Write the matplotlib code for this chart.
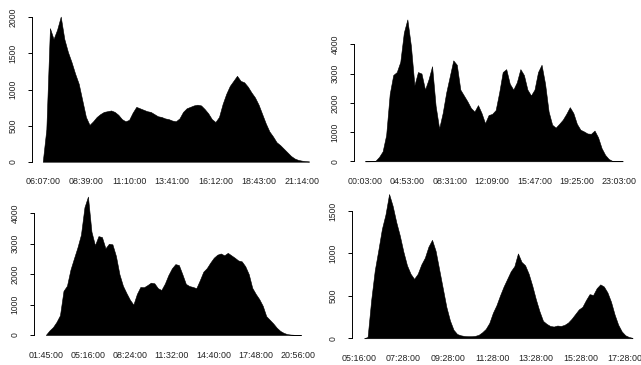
import numpy as np
import matplotlib
matplotlib.use("Agg")
import matplotlib.pyplot as plt

plt.rcParams['font.family'] = ['Liberation Sans', 'DejaVu Sans']

# time labels under each panel (evenly spaced bin positions 0..6)
labels_tl = ['06:07:00', '08:39:00', '11:10:00', '13:41:00', '16:12:00', '18:43:00', '21:14:00']
labels_tr = ['00:03:00', '04:53:00', '08:31:00', '12:09:00', '15:47:00', '19:25:00', '23:03:00']
labels_bl = ['01:45:00', '05:16:00', '08:24:00', '11:32:00', '14:40:00', '17:48:00', '20:56:00']
labels_br = ['05:16:00', '07:28:00', '09:28:00', '11:28:00', '13:28:00', '15:28:00', '17:28:00']

# counts per bin, sampled every 1/12 of a label interval
counts_tl = [0, 450, 1850, 1700, 1830, 2010, 1700, 1520, 1380, 1220, 1080, 850, 620, 510,
             560, 620, 660, 690, 700, 710, 690, 650, 590, 560, 580, 680, 760, 740, 720,
             700, 690, 660, 630, 620, 600, 590, 570, 560, 600, 690, 740, 760, 780, 790,
             780, 730, 670, 590, 550, 620, 800, 940, 1050, 1120, 1190, 1120, 1100, 1040,
             960, 890, 790, 660, 530, 420, 350, 270, 230, 180, 130, 80, 45, 25, 15, 8, 5]
counts_tr = [0, 0, 5, 20, 150, 340, 900, 2300, 2950, 3050, 3400, 4400, 4850, 3950, 2600,
             3050, 3000, 2450, 2800, 3250, 1900, 1120, 1650, 2350, 2900, 3450, 3300, 2450,
             2250, 2050, 1820, 1700, 1920, 1650, 1300, 1580, 1620, 1750, 2350, 3050, 3150,
             2650, 2450, 2700, 3150, 2950, 2450, 2250, 2450, 3050, 3300, 2650, 1700, 1250,
             1150, 1280, 1420, 1620, 1850, 1650, 1280, 1080, 1020, 950, 940, 1050, 820,
             450, 220, 80, 15, 8, 5, 3]
counts_bl = [10, 150, 260, 430, 650, 1450, 1620, 2150, 2520, 2880, 3300, 4200, 4550, 3400,
             2950, 3250, 3220, 2850, 3000, 2980, 2600, 2000, 1620, 1380, 1160, 1000, 1350,
             1580, 1570, 1640, 1720, 1700, 1540, 1480, 1690, 1970, 2190, 2330, 2300, 2000,
             1680, 1610, 1580, 1540, 1800, 2080, 2200, 2380, 2540, 2640, 2680, 2620, 2700,
             2620, 2540, 2450, 2420, 2260, 2000, 1550, 1350, 1180, 960, 620, 500, 380, 240,
             135, 70, 30, 15, 8, 4, 2]
counts_br = [0, 15, 450, 800, 1040, 1290, 1460, 1700, 1560, 1370, 1210, 1020, 860, 760,
             700, 760, 870, 950, 1080, 1160, 1030, 810, 590, 370, 210, 100, 50, 35, 27,
             24, 24, 28, 40, 70, 110, 180, 300, 390, 505, 610, 700, 790, 850, 1000, 900,
             860, 760, 620, 460, 320, 205, 170, 145, 138, 150, 145, 158, 185, 230, 285,
             340, 370, 450, 520, 510, 590, 635, 610, 540, 430, 280, 160, 80, 35, 15, 5]

panels = [
    # counts, labels, first bin offset, label spacing, y ticks, axes box, xlim, ylim
    (counts_tl, labels_tl, 0.0, 1.0, [0, 500, 1000, 1500, 2000],
     [0.0495, 0.5411, 0.4482, 0.4312], (-0.255, 6.4), (-80, 2100)),
    (counts_tr, labels_tr, 0.0, 1.0, [0, 1000, 2000, 3000, 4000],
     [0.5527, 0.5421, 0.4398, 0.4207], (-0.2525, 6.4), (-200, 5050)),
    (counts_bl, labels_bl, 0.0, 1.0, [0, 1000, 2000, 3000, 4000],
     [0.0535, 0.0663, 0.4371, 0.4118], (-0.279, 6.4), (-190, 4750)),
    (counts_br, labels_br, 0.11, 1.03, [0, 500, 1000, 1500],
     [0.5496, 0.0570, 0.4398, 0.4230], (-0.163, 6.4), (-70, 1750)),
]

fig = plt.figure(figsize=(6.41, 3.65), dpi=100)

for counts, labels, offset, spacing, yticks, box, xlim, ylim in panels:
    ax = fig.add_axes(box)
    x = offset + np.arange(len(counts)) / 12.0
    ax.fill_between(x, counts, 0, facecolor='black', edgecolor='black', linewidth=0.4)

    ax.set_xlim(*xlim)
    ax.set_ylim(*ylim)

    for side in ['top', 'right', 'bottom']:
        ax.spines[side].set_visible(False)
    ax.spines['left'].set_bounds(yticks[0], yticks[-1])
    ax.spines['left'].set_linewidth(0.7)

    ax.set_yticks(yticks)
    ax.set_yticklabels([str(t) for t in yticks], rotation=90, va='center', fontsize=6.2, color='#222222')
    ax.tick_params(axis='y', length=3, width=0.7, pad=7.5)

    ax.set_xticks(spacing * np.arange(7))
    ax.set_xticklabels(labels, fontsize=6.4, color='#222222')
    ax.tick_params(axis='x', length=0, pad=7)
    ax.set_facecolor('none')

fig.savefig('out.png', dpi=100)
